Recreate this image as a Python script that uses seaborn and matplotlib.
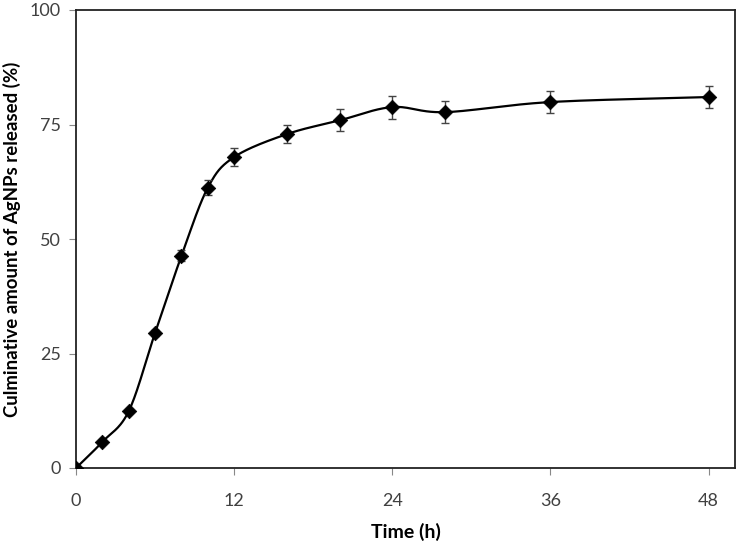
import numpy as np
import pandas as pd
import matplotlib
matplotlib.use("Agg")
import matplotlib.pyplot as plt
import seaborn as sns

time_h = [0, 2, 4, 6, 8, 10, 12, 16, 20, 24, 28, 36, 48]
released = [0, 5.7, 12.4, 29.5, 46.3, 61.2, 67.9, 72.9, 75.9, 78.8, 77.7, 79.9, 81.0]
err = [0, 0.4, 0.5, 0.6, 1.2, 1.6, 1.9, 2.0, 2.4, 2.5, 2.4, 2.4, 2.5]
x_ticks = [0, 12, 24, 36, 48]
y_ticks = [0, 25, 50, 75, 100]

df = pd.DataFrame({"Time (h)": time_h, "released": released, "err": err})

sns.set_theme(style="white")
plt.rcParams['font.family'] = ['Lato', 'DejaVu Sans']

fig = plt.figure(figsize=(7.4, 5.44), dpi=100)
ax = fig.add_axes([76/740, 1 - 468/544, (735-76)/740, (468-10)/544])


def smooth(x, y, n=30):
    # Catmull-Rom style smoothing through the data points (like Excel smoothed lines)
    x = np.asarray(x, float); y = np.asarray(y, float)
    px = np.concatenate([[2*x[0]-x[1]], x, [2*x[-1]-x[-2]]])
    py = np.concatenate([[2*y[0]-y[1]], y, [2*y[-1]-y[-2]]])
    xs, ys = [], []
    t = np.linspace(0, 1, n)
    for i in range(1, len(px) - 2):
        p0, p1, p2, p3 = [np.array([px[j], py[j]]) for j in (i-1, i, i+1, i+2)]
        c1 = p1 + (p2 - p0) / 6
        c2 = p2 - (p3 - p1) / 6
        b = ((1-t)**3)[:, None]*p1 + (3*(1-t)**2*t)[:, None]*c1 + (3*(1-t)*t**2)[:, None]*c2 + (t**3)[:, None]*p2
        xs.append(b[:, 0]); ys.append(b[:, 1])
    return np.concatenate(xs), np.concatenate(ys)

sx, sy = smooth(df["Time (h)"], df["released"])
ax.plot(sx, sy, color="black", lw=1.6, zorder=2)
ax.errorbar(df["Time (h)"], df["released"], yerr=df["err"], fmt="none",
            ecolor="#444444", elinewidth=1.0, capsize=3, capthick=1.0, zorder=3)
sns.scatterplot(data=df, x="Time (h)", y="released", marker="D", s=55,
                color="black", edgecolor="black", linewidth=0.5, ax=ax, zorder=4,
                legend=False)

ax.set_xlim(0, 50)
ax.set_ylim(0, 100)
ax.set_xticks(x_ticks)
ax.set_yticks(y_ticks)
ax.tick_params(axis="both", direction="out", length=5, width=0.8, color="#888888",
               labelsize=13, labelcolor="#404040", bottom=True, left=True, pad=13)
ax.tick_params(axis="y", pad=6)
for s in ax.spines.values():
    s.set_color("#222222")
    s.set_linewidth(1.3)
ax.set_xlabel("Time (h)", fontsize=14, fontweight="bold", color="black", labelpad=10)
ax.set_ylabel("Culminative amount of AgNPs released (%)", fontsize=13.4,
              fontweight="bold", color="black", labelpad=6)
ax.set_facecolor("white")
fig.patch.set_facecolor("white")

fig.savefig("out.png", dpi=100)
